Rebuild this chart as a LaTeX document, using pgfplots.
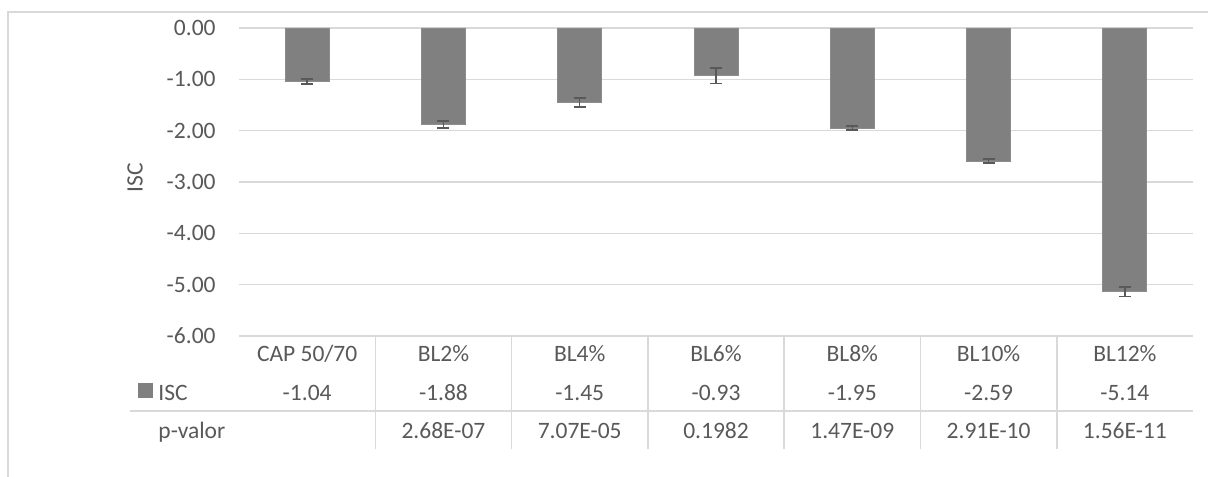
\documentclass[border=0pt]{standalone}
\usepackage{pgfplots}
\pgfplotsset{compat=1.18}
\usepackage{fontspec}
\setmainfont{Carlito}
\definecolor{barfill}{HTML}{808080}
\definecolor{bardraw}{HTML}{8C8C8C}
\definecolor{errgray}{HTML}{595959}
\definecolor{gridgray}{HTML}{D9D9D9}
\definecolor{textgray}{HTML}{595959}
\newcommand\cf{\fontsize{11.75bp}{14bp}\selectfont}
\begin{document}
\cf
\begin{tikzpicture}[x=0.5bp,y=0.5bp]
\useasboundingbox (0,0) rectangle (1208,477);
% chart frame (partly visible)
\draw[gridgray, line width=0.6bp] (8,0) -- (8,465) -- (1208,465);
\begin{axis}[
  at={(119.5bp,70.5bp)}, anchor=south west,
  scale only axis, width=477bp, height=154bp,
  xmin=-0.5, xmax=6.5, ymin=-6, ymax=0,
  ytick={-6,-5,-4,-3,-2,-1,0},
  xtick={0,1,2,3,4,5,6},
  xticklabels={CAP 50/70, BL2\%, BL4\%, BL6\%, BL8\%, BL10\%, BL12\%},
  ymajorgrids, grid style={color=gridgray, line width=0.75bp},
  axis line style={draw=none}, major tick length=0pt,
  tick style={draw=none},
  clip=false,
  /pgf/number format/assume math mode=true,
  yticklabel style={/pgf/number format/fixed, /pgf/number format/fixed zerofill,
    /pgf/number format/precision=2, anchor=east, inner sep=0pt, xshift=-11.5bp},
  xticklabel style={anchor=base, inner sep=0pt, yshift=-13bp},
  every tick label/.append style={font=\cf, text=textgray},
  ylabel={ISC},
  ylabel style={at={(rel axis cs:0,0.5)}, anchor=center, yshift=52bp, xshift=2bp, font=\cf, text=textgray},
]
\addplot[ybar, bar width=22bp, bar shift=0pt, fill=barfill, draw=bardraw, line width=0.4bp,
  error bars/.cd, y dir=both, y explicit,
  error bar style={color=errgray, line width=0.75bp},
  error mark options={rotate=90, mark size=3bp, line width=0.75bp, color=errgray}]
coordinates {
  (0,-1.04) +- (0,0.05)
  (1,-1.88) +- (0,0.07)
  (2,-1.45) +- (0,0.09)
  (3,-0.93) +- (0,0.15)
  (4,-1.95) +- (0,0.04)
  (5,-2.59) +- (0,0.04)
  (6,-5.14) +- (0,0.09)
};
% data table lines
\draw[gridgray, line width=0.75bp] (axis cs:-1.30,-7.46) -- (axis cs:6.5,-7.46);
\draw[gridgray, line width=0.75bp] (axis cs:0.5,-6) -- (axis cs:0.5,-8.2);
\draw[gridgray, line width=0.75bp] (axis cs:1.5,-6) -- (axis cs:1.5,-8.2);
\draw[gridgray, line width=0.75bp] (axis cs:2.5,-6) -- (axis cs:2.5,-8.2);
\draw[gridgray, line width=0.75bp] (axis cs:3.5,-6) -- (axis cs:3.5,-8.2);
\draw[gridgray, line width=0.75bp] (axis cs:4.5,-6) -- (axis cs:4.5,-8.2);
\draw[gridgray, line width=0.75bp] (axis cs:5.5,-6) -- (axis cs:5.5,-8.2);
% legend key and row headers
\fill[barfill] (axis cs:-1.241,-6.916) rectangle (axis cs:-1.131,-7.208);
\node[anchor=base west, inner sep=0pt, font=\cf, text=textgray] at (axis cs:-1.094,-7.247) {ISC};
\node[anchor=base west, inner sep=0pt, font=\cf, text=textgray] at (axis cs:-1.094,-7.99) {p-valor};
% ISC row
\node[anchor=base, inner sep=0pt, font=\cf, text=textgray] at (axis cs:0,-7.247) {-1.04};
\node[anchor=base, inner sep=0pt, font=\cf, text=textgray] at (axis cs:1,-7.247) {-1.88};
\node[anchor=base, inner sep=0pt, font=\cf, text=textgray] at (axis cs:2,-7.247) {-1.45};
\node[anchor=base, inner sep=0pt, font=\cf, text=textgray] at (axis cs:3,-7.247) {-0.93};
\node[anchor=base, inner sep=0pt, font=\cf, text=textgray] at (axis cs:4,-7.247) {-1.95};
\node[anchor=base, inner sep=0pt, font=\cf, text=textgray] at (axis cs:5,-7.247) {-2.59};
\node[anchor=base, inner sep=0pt, font=\cf, text=textgray] at (axis cs:6,-7.247) {-5.14};
% p-valor row
\node[anchor=base, inner sep=0pt, font=\cf, text=textgray] at (axis cs:1,-7.99) {2.68E-07};
\node[anchor=base, inner sep=0pt, font=\cf, text=textgray] at (axis cs:2,-7.99) {7.07E-05};
\node[anchor=base, inner sep=0pt, font=\cf, text=textgray] at (axis cs:3,-7.99) {0.1982};
\node[anchor=base, inner sep=0pt, font=\cf, text=textgray] at (axis cs:4,-7.99) {1.47E-09};
\node[anchor=base, inner sep=0pt, font=\cf, text=textgray] at (axis cs:5,-7.99) {2.91E-10};
\node[anchor=base, inner sep=0pt, font=\cf, text=textgray] at (axis cs:6,-7.99) {1.56E-11};
\end{axis}
\end{tikzpicture}
\end{document}
